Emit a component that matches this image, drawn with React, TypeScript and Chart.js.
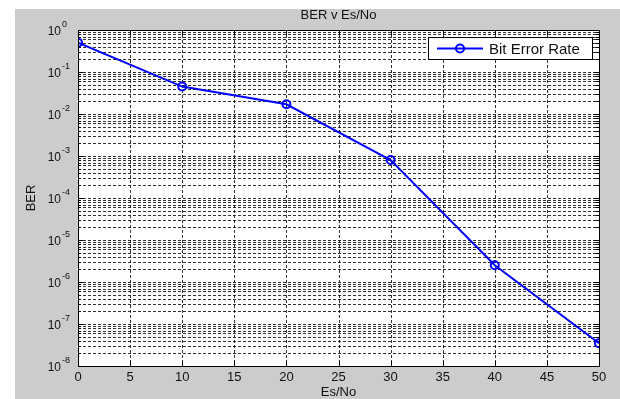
import React, { useEffect, useRef } from "react";
import { Chart, registerables } from "chart.js";

Chart.register(...registerables);

const esNo: number[] = [0, 10, 20, 30, 40, 50];
const ber: number[] = [0.5, 0.045, 0.017, 8e-4, 2.5e-6, 3.5e-8];
const xTicks: number[] = [0, 5, 10, 15, 20, 25, 30, 35, 40, 45, 50];
const yExponents: number[] = [0, -1, -2, -3, -4, -5, -6, -7, -8];
const chartTitle = "BER v Es/No";
const xTitle = "Es/No";
const yTitle = "BER";
const seriesName = "Bit Error Rate";

const FONT = "'Liberation Sans', Arial, Helvetica, sans-serif";

const matlabPlugin = {
  id: "matlabDecor",
  beforeDraw(chart: any) {
    const { ctx, width, height } = chart;
    ctx.save();
    ctx.fillStyle = "#ffffff";
    ctx.fillRect(0, 0, width, height);
    ctx.fillStyle = "#cccccc";
    ctx.fillRect(15, 9, width - 15, height - 9);
    const a = chart.chartArea;
    ctx.fillStyle = "#ffffff";
    ctx.fillRect(a.left, a.top, a.right - a.left, a.bottom - a.top);
    ctx.restore();
  },
  beforeDatasetsDraw(chart: any) {
    const { ctx } = chart;
    const a = chart.chartArea;
    const xs = chart.scales.x;
    const ys = chart.scales.y;
    ctx.save();
    ctx.strokeStyle = "rgba(0,0,0,0.8)";
    ctx.lineWidth = 1;
    ctx.setLineDash([3, 2]);
    // vertical grid
    xTicks.forEach((v) => {
      const px = Math.round(xs.getPixelForValue(v)) + 0.5;
      if (px <= a.left + 1 || px >= a.right - 1) return;
      ctx.beginPath();
      ctx.moveTo(px, a.top);
      ctx.lineTo(px, a.bottom);
      ctx.stroke();
    });
    // horizontal grid (decades + minors)
    for (let e = -8; e < 0; e++) {
      for (let m = 1; m <= 9; m++) {
        const v = m * Math.pow(10, e);
        const py = Math.round(ys.getPixelForValue(v)) + 0.5;
        if (py >= a.bottom - 1 || py <= a.top + 1) continue;
        ctx.beginPath();
        ctx.moveTo(a.left, py);
        ctx.lineTo(a.right, py);
        ctx.stroke();
      }
    }
    ctx.setLineDash([]);
    // inward tick marks
    ctx.strokeStyle = "#000";
    xTicks.forEach((v) => {
      const px = Math.round(xs.getPixelForValue(v)) + 0.5;
      ctx.beginPath();
      ctx.moveTo(px, a.bottom);
      ctx.lineTo(px, a.bottom - 5);
      ctx.moveTo(px, a.top);
      ctx.lineTo(px, a.top + 5);
      ctx.stroke();
    });
    for (let e = -8; e <= 0; e++) {
      for (let m = 1; m <= 9; m++) {
        if (e === 0 && m > 1) break;
        const v = m * Math.pow(10, e);
        const py = Math.round(ys.getPixelForValue(v)) + 0.5;
        const len = m === 1 ? 5 : 3;
        ctx.beginPath();
        ctx.moveTo(a.left, py);
        ctx.lineTo(a.left + len, py);
        ctx.moveTo(a.right, py);
        ctx.lineTo(a.right - len, py);
        ctx.stroke();
      }
    }
    ctx.restore();
  },
  afterDraw(chart: any) {
    const { ctx } = chart;
    const a = chart.chartArea;
    const xs = chart.scales.x;
    const ys = chart.scales.y;
    ctx.save();
    // box
    ctx.strokeStyle = "#000";
    ctx.lineWidth = 1;
    ctx.strokeRect(Math.round(a.left) + 0.5, Math.round(a.top) + 0.5, Math.round(a.right - a.left), Math.round(a.bottom - a.top));

    ctx.fillStyle = "#111";
    // x tick labels
    ctx.font = `13px ${FONT}`;
    ctx.textAlign = "center";
    ctx.textBaseline = "middle";
    xTicks.forEach((v) => {
      ctx.fillText(String(v), xs.getPixelForValue(v), a.bottom + 11);
    });
    // y tick labels 10^e
    yExponents.forEach((e) => {
      const py = ys.getPixelForValue(Math.pow(10, e));
      ctx.font = `12px ${FONT}`;
      ctx.textAlign = "right";
      ctx.textBaseline = "middle";
      ctx.fillText("10", a.left - 17, py + 2);
      ctx.font = `9px ${FONT}`;
      ctx.textAlign = "left";
      ctx.textBaseline = "middle";
      ctx.fillText(String(e), a.left - 16, py - 5);
    });
    // titles
    ctx.font = `13px ${FONT}`;
    ctx.textAlign = "center";
    ctx.textBaseline = "middle";
    ctx.fillText(chartTitle, (a.left + a.right) / 2, 15);
    ctx.fillText(xTitle, (a.left + a.right) / 2, a.bottom + 26);
    ctx.save();
    ctx.translate(31, (a.top + a.bottom) / 2);
    ctx.rotate(-Math.PI / 2);
    ctx.fillText(yTitle, 0, 0);
    ctx.restore();

    // legend
    const lx = 428.5, ly = 37.5, lw = 164, lh = 22;
    ctx.fillStyle = "#ffffff";
    ctx.fillRect(lx, ly, lw, lh);
    ctx.strokeStyle = "#000";
    ctx.lineWidth = 1;
    ctx.strokeRect(lx, ly, lw, lh);
    const my = ly + lh / 2;
    ctx.strokeStyle = "#0000ff";
    ctx.lineWidth = 2;
    ctx.beginPath();
    ctx.moveTo(437, my);
    ctx.lineTo(483, my);
    ctx.stroke();
    ctx.beginPath();
    ctx.arc(460, my, 4, 0, Math.PI * 2);
    ctx.stroke();
    ctx.fillStyle = "#111";
    ctx.font = `15px ${FONT}`;
    ctx.textAlign = "left";
    ctx.textBaseline = "middle";
    ctx.fillText(seriesName, 489, my + 1);
    ctx.restore();
  },
};

export default function App() {
  const ref = useRef<HTMLCanvasElement | null>(null);
  useEffect(() => {
    if (!ref.current) return;
    const chart = new Chart(ref.current, {
      type: "line",
      data: {
        datasets: [
          {
            label: seriesName,
            data: esNo.map((x, i) => ({ x, y: ber[i] })),
            borderColor: "#0000ff",
            borderWidth: 2,
            pointRadius: 4,
            pointBorderWidth: 2,
            pointBorderColor: "#0000ff",
            pointBackgroundColor: "rgba(0,0,0,0)",
            tension: 0,
            fill: false,
          },
        ],
      },
      options: {
        responsive: false,
        animation: false,
        events: [],
        layout: { padding: { top: 30, right: 21, left: 0, bottom: 0 } },
        plugins: { legend: { display: false }, title: { display: false }, tooltip: { enabled: false } },
        scales: {
          x: {
            type: "linear",
            min: 0,
            max: 50,
            ticks: { display: false },
            grid: { display: false },
            border: { display: false },
            afterFit: (s: any) => {
              s.height = 33;
            },
          },
          y: {
            type: "logarithmic",
            min: 1e-8,
            max: 1,
            ticks: { display: false },
            grid: { display: false },
            border: { display: false },
            afterFit: (s: any) => {
              s.width = 78;
            },
          },
        },
      },
      plugins: [matlabPlugin],
    } as any);
    return () => chart.destroy();
  }, []);
  return (
    <div style={{ position: "fixed", left: 0, top: 0, width: 620, height: 399, background: "#fff" }}>
      <canvas ref={ref} width={620} height={399} style={{ display: "block", width: 620, height: 399 }} />
    </div>
  );
}
